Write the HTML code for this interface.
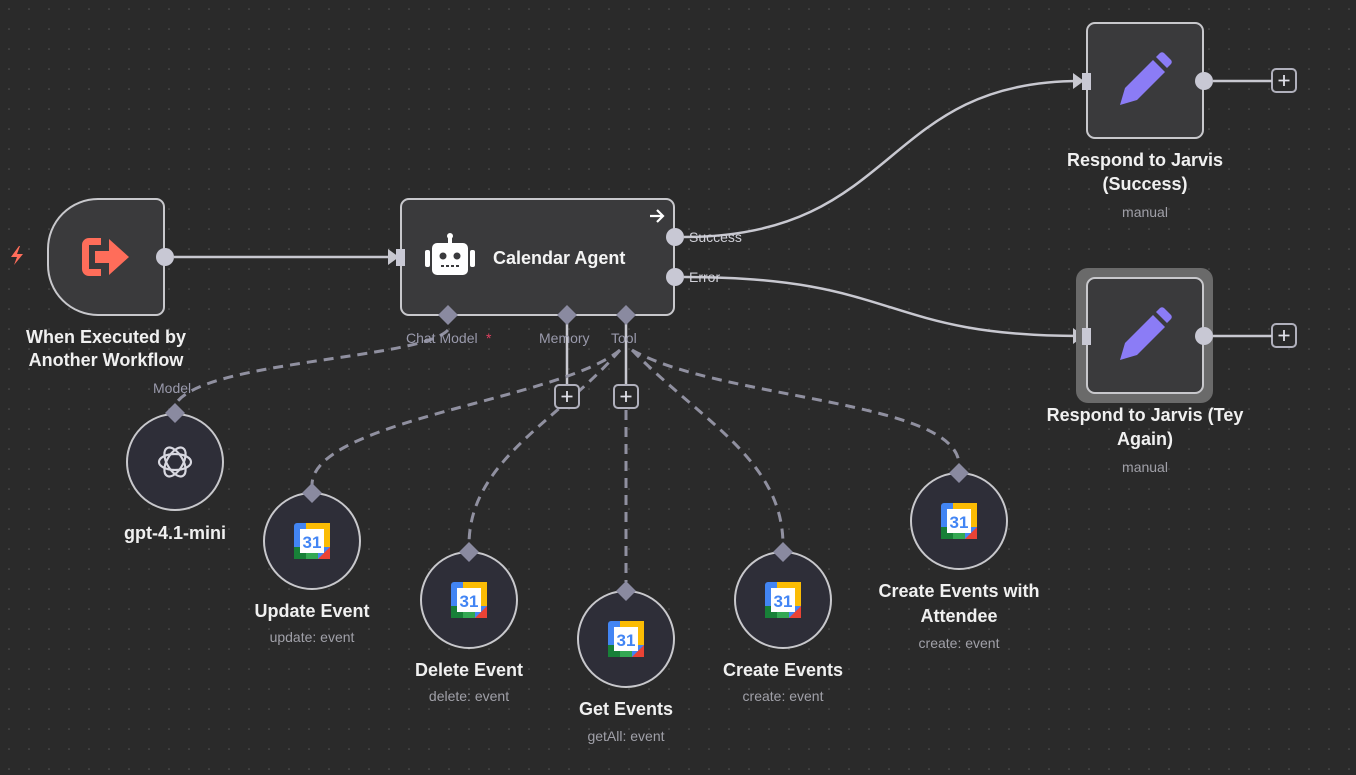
<!DOCTYPE html>
<html><head><meta charset="utf-8"><style>
html,body{margin:0;padding:0;background:#2a2a2a;width:1356px;height:775px;overflow:hidden}
svg{display:block}
text{font-family:"Liberation Sans",sans-serif}
</style></head><body>
<svg width="1356" height="775" viewBox="0 0 1356 775">
<defs>
<pattern id="g" width="20" height="20" patternUnits="userSpaceOnUse" x="8" y="8">
<circle cx="1" cy="1" r="0.8" fill="#555"/>
</pattern>
<g id="cal">
<rect x="-18" y="-18" width="36" height="36" rx="3" fill="#4285f4"/>
<rect x="-6" y="-18" width="24" height="12" fill="#fbbc04"/>
<rect x="6" y="-6" width="12" height="12" fill="#fbbc04"/>
<rect x="-18" y="6" width="24" height="12" fill="#34a853"/>
<rect x="-18" y="6" width="12" height="12" fill="#188038"/>
<polygon points="6,18 18,6 18,18" fill="#ea4335"/>
<rect x="-12" y="-12" width="24" height="24" fill="#fff"/>
<text x="0" y="7" font-size="17" font-weight="bold" fill="#4285f4" text-anchor="middle">31</text>
</g>
</defs>
<rect width="1356" height="775" fill="#2a2a2a"/>
<rect width="1356" height="775" fill="url(#g)"/>

<!-- connections -->
<g fill="none" stroke="#c8c8d0" stroke-width="2.5">
<line x1="174" y1="257" x2="392" y2="257"/>
<path d="M684,237 C900,237 880,81 1080,81"/>
<path d="M684,277 C900,277 880,336 1080,336"/>
<line x1="567" y1="318" x2="567" y2="385"/>
<line x1="626" y1="318" x2="626" y2="385"/>
</g>
<polygon points="388,249 399,257 388,265" fill="#c8c8d0"/>
<polygon points="1073,73 1084,81 1073,89" fill="#c8c8d0"/>
<polygon points="1073,328 1084,336 1073,344" fill="#c8c8d0"/>
<g fill="none" stroke="#9090a0" stroke-width="3" stroke-dasharray="10,7">
<path d="M448,330 C420,360 200,360 175,405"/>
<path d="M620,350 C560,400 312,420 312,485"/>
<path d="M620,350 C560,420 469,460 469,545"/>
<line x1="626" y1="410" x2="626" y2="582"/>
<path d="M632,350 C700,420 783,460 783,545"/>
<path d="M632,350 C720,400 959,400 959,465"/>
</g>

<!-- plus boxes -->
<g fill="#2a2a2a" stroke="#b0b0bc" stroke-width="2">
<rect x="555" y="385" width="24" height="23" rx="4"/>
<rect x="614" y="385" width="24" height="23" rx="4"/>
<rect x="1272" y="69" width="24" height="23" rx="4"/>
<rect x="1272" y="324" width="24" height="23" rx="4"/>
</g>
<g stroke="#e0e0e8" stroke-width="1.8">
<path d="M567,391v11M561.5,396.5h11"/>
<path d="M626,391v11M620.5,396.5h11"/>
<path d="M1284,75v11M1278.5,80.5h11"/>
<path d="M1284,330v11M1278.5,335.5h11"/>
</g>
<g stroke="#c8c8d0" stroke-width="2.5">
<line x1="1213" y1="81" x2="1272" y2="81"/>
<line x1="1213" y1="336" x2="1272" y2="336"/>
</g>

<!-- trigger -->
<path d="M98,199 H156 a8,8 0 0 1 8,8 V307 a8,8 0 0 1 -8,8 H98 a50,50 0 0 1 -50,-50 V249 a50,50 0 0 1 50,-50 Z" fill="#3a3a3c" stroke="#c8c8cc" stroke-width="2"/>
<g fill="#ff6d5a">
<path d="M101,238 h-12 a7,7 0 0 0 -7,7 v24 a7,7 0 0 0 7,7 h12 v-7 h-12 v-24 h12z"/>
<path d="M95,251 h14 v-12 l20,18 l-20,18 v-12 h-14z"/>
<path d="M19,246 l-8,11 h6 l-3,8 l9,-11 h-6 l3,-8z"/>
</g>
<circle cx="165" cy="257" r="9" fill="#c8c8d4"/>
<text x="106" y="343" font-size="18" font-weight="bold" fill="#f0f0f0" text-anchor="middle">When Executed by</text>
<text x="106" y="366" font-size="18" font-weight="bold" fill="#f0f0f0" text-anchor="middle">Another Workflow</text>

<!-- agent -->
<rect x="401" y="199" width="273" height="116" rx="8" fill="#3a3a3c" stroke="#c8c8cc" stroke-width="2"/>
<rect x="396" y="249" width="9" height="17" fill="#c8c8d4"/>
<g fill="#fff">
<rect x="432" y="243" width="36" height="32" rx="5"/>
<rect x="448" y="236" width="4" height="8"/>
<circle cx="450" cy="236" r="3"/>
<rect x="425" y="250" width="5" height="17" rx="2"/>
<rect x="470" y="250" width="5" height="17" rx="2"/>
</g>
<circle cx="443" cy="256" r="3.5" fill="#3a3a3c"/><circle cx="457" cy="256" r="3.5" fill="#3a3a3c"/>
<path d="M441,266h18" stroke="#3a3a3c" stroke-width="2" stroke-dasharray="3,2"/>
<text x="493" y="264" font-size="18" font-weight="bold" fill="#f4f4f4">Calendar Agent</text>
<path d="M650,216h12M657,210l6,6-6,6" stroke="#fff" stroke-width="2.2" fill="none"/>
<circle cx="675" cy="237" r="9" fill="#c8c8d4"/>
<circle cx="675" cy="277" r="9" fill="#c8c8d4"/>
<text x="689" y="242" font-size="14" fill="#d0d0d8">Success</text>
<text x="689" y="282" font-size="14" fill="#d0d0d8">Error</text>
<g fill="#8a8aa0">
<polygon points="448,305 458,315 448,325 438,315"/>
<polygon points="567,305 577,315 567,325 557,315"/>
<polygon points="626,305 636,315 626,325 616,315"/>
</g>
<text x="406" y="343" font-size="14" fill="#9a9aac">Chat Model</text>
<text x="486" y="343" font-size="14" fill="#e04060">*</text>
<text x="539" y="343" font-size="14" fill="#9a9aac">Memory</text>
<text x="611" y="343" font-size="14" fill="#9a9aac">Tool</text>

<!-- respond nodes -->
<rect x="1076" y="268" width="137" height="135" rx="12" fill="#6a6a6a"/>
<rect x="1087" y="23" width="116" height="115" rx="8" fill="#3a3a3c" stroke="#c8c8cc" stroke-width="2"/>
<rect x="1087" y="278" width="116" height="115" rx="8" fill="#3a3a3c" stroke="#c8c8cc" stroke-width="2"/>
<rect x="1082" y="73" width="9" height="17" fill="#c8c8d4"/>
<rect x="1082" y="328" width="9" height="17" fill="#c8c8d4"/>
<g fill="#8b7cf6">
<path d="M1120,105 l5,-17 l28,-28 l12,12 l-28,28z"/>
<path d="M1156,57 l4,-4 a3,3 0 0 1 4,0 l7,7 a3,3 0 0 1 0,4 l-4,4z"/>
<path d="M1120,360 l5,-17 l28,-28 l12,12 l-28,28z"/>
<path d="M1156,312 l4,-4 a3,3 0 0 1 4,0 l7,7 a3,3 0 0 1 0,4 l-4,4z"/>
</g>
<circle cx="1204" cy="81" r="9" fill="#c8c8d4"/>
<circle cx="1204" cy="336" r="9" fill="#c8c8d4"/>
<g font-size="18" font-weight="bold" fill="#f0f0f0" text-anchor="middle">
<text x="1145" y="166">Respond to Jarvis</text>
<text x="1145" y="190">(Success)</text>
<text x="1145" y="421">Respond to Jarvis (Tey</text>
<text x="1145" y="445">Again)</text>
</g>
<text x="1145" y="217" font-size="14" fill="#a0a0a8" text-anchor="middle">manual</text>
<text x="1145" y="472" font-size="14" fill="#a0a0a8" text-anchor="middle">manual</text>

<!-- circle nodes -->
<g fill="#2e2e38" stroke="#c8c8cc" stroke-width="2">
<circle cx="175" cy="462" r="48"/>
<circle cx="312" cy="541" r="48"/>
<circle cx="469" cy="600" r="48"/>
<circle cx="626" cy="639" r="48"/>
<circle cx="783" cy="600" r="48"/>
<circle cx="959" cy="521" r="48"/>
</g>
<g fill="#8a8aa0">
<polygon points="175,403 185,413 175,423 165,413"/>
<polygon points="312,483 322,493 312,503 302,493"/>
<polygon points="469,542 479,552 469,562 459,552"/>
<polygon points="626,581 636,591 626,601 616,591"/>
<polygon points="783,542 793,552 783,562 773,552"/>
<polygon points="959,463 969,473 959,483 949,473"/>
</g>
<text x="153" y="393" font-size="14" fill="#9a9aac">Model</text>
<g fill="none" stroke="#d8d8e0" stroke-width="2.2">
<g transform="translate(175,462)">
<ellipse rx="16" ry="8"/><ellipse rx="16" ry="8" transform="rotate(60)"/><ellipse rx="16" ry="8" transform="rotate(120)"/>
</g>
</g>
<use href="#cal" transform="translate(312,541)"/>
<use href="#cal" transform="translate(469,600)"/>
<use href="#cal" transform="translate(626,639)"/>
<use href="#cal" transform="translate(783,600)"/>
<use href="#cal" transform="translate(959,521)"/>
<g font-size="18" font-weight="bold" fill="#f0f0f0" text-anchor="middle">
<text x="175" y="539">gpt-4.1-mini</text>
<text x="312" y="617">Update Event</text>
<text x="469" y="676">Delete Event</text>
<text x="626" y="715">Get Events</text>
<text x="783" y="676">Create Events</text>
<text x="959" y="597">Create Events with</text>
<text x="959" y="622">Attendee</text>
</g>
<g font-size="14" fill="#a0a0a8" text-anchor="middle">
<text x="312" y="642">update: event</text>
<text x="469" y="701">delete: event</text>
<text x="626" y="741">getAll: event</text>
<text x="783" y="701">create: event</text>
<text x="959" y="648">create: event</text>
</g>
</svg>
</body></html>
